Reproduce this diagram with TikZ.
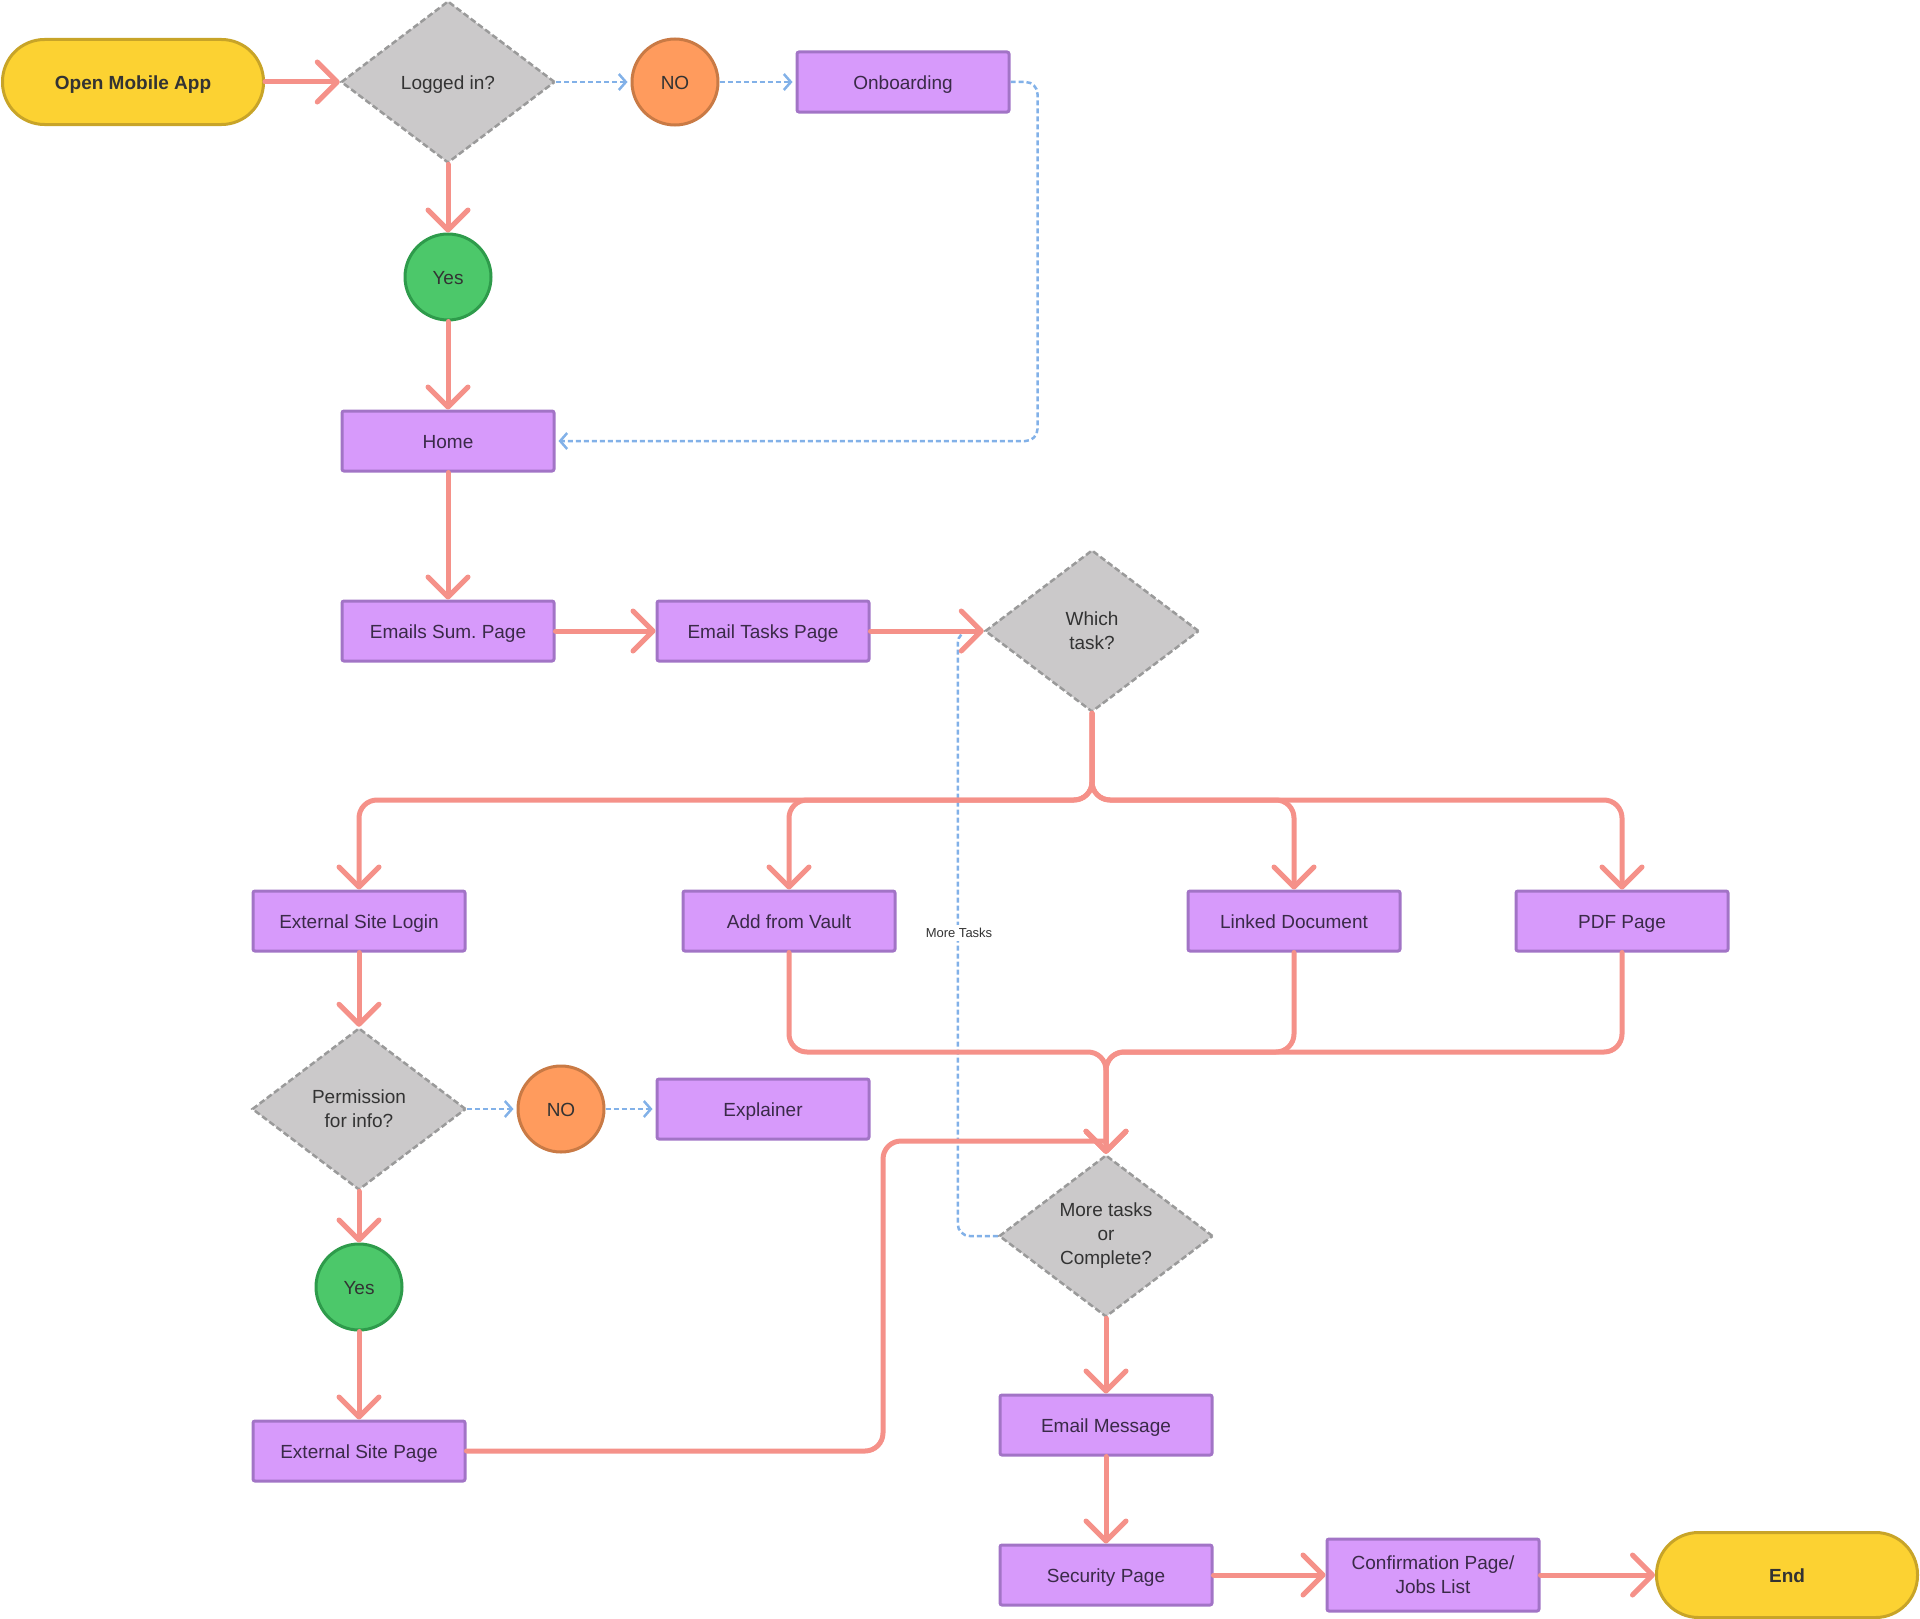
\documentclass[tikz,border=0pt]{standalone}
\usepackage{fontspec}
\setmainfont{Liberation Sans}
\usetikzlibrary{shapes.geometric,arrows.meta,positioning,calc}
\frenchspacing

\definecolor{termfill}{HTML}{FCD232}
\definecolor{termdraw}{HTML}{C8A428}
\definecolor{decfill}{HTML}{CBC9CA}
\definecolor{decdraw}{HTML}{9A9A9A}
\definecolor{pagefill}{HTML}{D79AFB}
\definecolor{pagedraw}{HTML}{A274C6}
\definecolor{nofill}{HTML}{FF9B5D}
\definecolor{nodraw}{HTML}{C97A45}
\definecolor{yesfill}{HTML}{4CC86A}
\definecolor{yesdraw}{HTML}{2E9B4B}
\definecolor{flowred}{HTML}{F59189}
\definecolor{flowblue}{HTML}{82B1E8}
\definecolor{inktext}{HTML}{333333}
\definecolor{pagetext}{HTML}{3A2A48}

\begin{document}
\begin{tikzpicture}[x=1pt, y=-1pt,
        every node/.style={font=\fontsize{19}{24}\selectfont, text=inktext},
        oneline/.style={text height=14pt, text depth=0pt},
        term/.style={rectangle, rounded corners=42pt, draw=termdraw, fill=termfill, line width=3pt, minimum width=261pt, minimum height=85pt, oneline, font=\fontsize{19}{24}\selectfont\bfseries},
        page/.style={rectangle, rounded corners=2pt, draw=pagedraw, fill=pagefill, line width=3pt, minimum width=212pt, minimum height=60pt, align=center, oneline, text=pagetext},
        decision/.style={diamond, draw=decdraw, fill=decfill, line width=2.5pt, dash pattern=on 6pt off 3pt, minimum width=214pt, minimum height=162pt, inner sep=0pt, align=center},
        nocircle/.style={circle, draw=nodraw, fill=nofill, line width=3pt, minimum size=86pt, inner sep=0pt, oneline},
        yescircle/.style={circle, draw=yesdraw, fill=yesfill, line width=3pt, minimum size=86pt, inner sep=0pt, oneline},
        line/.style={draw=flowred, line width=5pt, line cap=round, -{Straight Barb[length=20pt, width=40pt, round]}},
        branch/.style={draw=flowred, line width=5pt, line cap=round, rounded corners=18pt},
        dotline/.style={draw=flowblue, line width=2.5pt, dash pattern=on 5pt off 3pt, rounded corners=12pt, shorten >=3pt, -{Straight Barb[length=7pt, width=16pt]}},
        tasklabel/.style={fill=white, inner sep=3pt, font=\fontsize{13}{15}\selectfont}]

        \useasboundingbox (0,0) rectangle (1920,1619);

        % login part
        \node [term] (open) at (133,82) {Open Mobile App};
        \node [decision, oneline] (logged) at (448,82) {Logged in?};
        \node [nocircle] (no1) at (675,82) {NO};
        \node [page] (onb) at (903,82) {Onboarding};
        \node [yescircle] (yes1) at (448,277) {Yes};
        \node [page] (home) at (448,441) {Home};

        % email tasks
        \node [page] (sum) at (448,631) {Emails Sum. Page};
        \node [page] (tasks) at (763,631) {Email Tasks Page};
        \node [decision] (which) at (1092,631) {Which\\task?};

        \node [page] (extlogin) at (359,921) {External Site Login};
        \node [page] (vault) at (789,921) {Add from Vault};
        \node [page] (linked) at (1294,921) {Linked Document};
        \node [page] (pdf) at (1622,921) {PDF Page};

        \node [decision] (perm) at (359,1109) {Permission\\for info?};
        \node [nocircle] (no2) at (561,1109) {NO};
        \node [page] (explainer) at (763,1109) {Explainer};
        \node [yescircle] (yes2) at (359,1287) {Yes};
        \node [page] (extpage) at (359,1451) {External Site Page};

        % finishing
        \node [decision] (more) at (1106,1236) {More tasks\\or\\Complete?};
        \node [page] (emailmsg) at (1106,1425) {Email Message};
        \node [page] (security) at (1106,1575) {Security Page};
        \node [page, text height={}, text depth={}, minimum height=72pt] (confirm) at (1433,1575) {Confirmation Page/\\Jobs List};
        \node [term] (endn) at (1787,1575) {End};

        \coordinate (split) at (1092,800);
        \coordinate (merge) at (1106,1052);
        \coordinate (join) at (1106,1141);

        % dotted paths
        \draw [dotline] (logged) -- (no1);
        \draw [dotline] (no1) -- (onb);
        \draw [dotline] (onb.east) -- ++(27,0) |- (home.east);
        \draw [dotline] (perm) -- (no2);
        \draw [dotline] (no2) -- (explainer);
        \draw [dotline] (more.west) -| ([xshift=-26pt]which.west) -- (which.west);
        \node [tasklabel] (moretag) at (959,933) {More Tasks};

        % main flow
        \path [line] (open) -- (logged);
        \path [line] (logged) -- (yes1);
        \path [line] (yes1) -- (home);
        \path [line] (home) -- (sum);
        \path [line] (sum) -- (tasks);
        \path [line] (tasks) -- (which);

        \path [line, rounded corners=18pt] (which.south) -- (split) -| (extlogin.north);
        \path [line, rounded corners=18pt] (which.south) -- (split) -| (vault.north);
        \path [line, rounded corners=18pt] (which.south) -- (split) -| (linked.north);
        \path [line, rounded corners=18pt] (which.south) -- (split) -| (pdf.north);

        \path [line] (extlogin) -- (perm);
        \path [line] (perm) -- (yes2);
        \path [line] (yes2) -- (extpage);
        \path [branch] (extpage.east) -| (883,1141) -- (join);

        \path [line, rounded corners=18pt] (vault.south) |- (merge) -- (more.north);
        \path [line, rounded corners=18pt] (linked.south) |- (merge) -- (more.north);
        \path [line, rounded corners=18pt] (pdf.south) |- (merge) -- (more.north);

        \path [line] (more) -- (emailmsg);
        \path [line] (emailmsg) -- (security);
        \path [line] (security) -- (confirm);
        \path [line] (confirm) -- (endn);

    \end{tikzpicture}
\end{document}
